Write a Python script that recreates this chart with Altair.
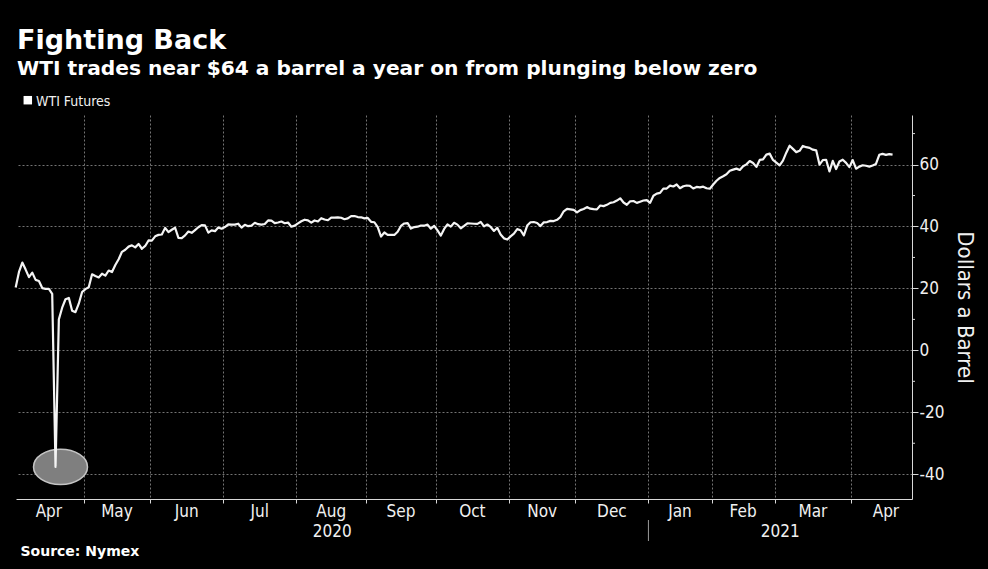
import altair as alt
import pandas as pd

# ---- WTI futures closes (dollars a barrel), one value per trading day ----
apr_2020 = [20.31, 25.32, 28.34, 26.08, 23.63, 25.09, 22.76, 22.41, 20.11, 19.87, 19.87,
            18.27, -37.63, 10.01, 13.78, 16.50, 16.94, 12.78, 12.34, 15.06, 18.84]
may_2020 = [19.78, 20.39, 24.56, 23.99, 23.55, 24.74, 24.14, 25.78, 25.29, 27.56, 29.43,
            31.82, 32.50, 33.49, 33.92, 33.25, 34.35, 32.81, 33.71, 35.49]
jun_2020 = [35.44, 36.81, 37.29, 37.41, 39.55, 38.19, 38.94, 39.60, 36.34, 36.26, 37.12,
            38.38, 37.96, 38.84, 39.75, 40.46, 40.37, 38.01, 38.72, 38.49, 39.70, 39.27]
jul_2020 = [39.82, 40.65, 40.63, 40.62, 40.90, 39.62, 40.55, 40.10, 40.29, 41.20, 40.75,
            40.59, 40.81, 41.96, 41.90, 41.07, 41.29, 41.60, 41.04, 41.27, 39.92, 40.27]
aug_2020 = [41.01, 41.70, 42.19, 41.95, 41.22, 41.94, 41.61, 42.67, 42.24, 42.01, 42.89,
            42.89, 42.93, 42.82, 42.34, 42.62, 43.35, 43.39, 43.04, 42.97, 42.61]
sep_2020 = [42.76, 41.51, 41.37, 39.77, 36.76, 38.05, 37.30, 37.33, 37.26, 38.28, 40.16,
            40.97, 41.11, 39.31, 39.80, 39.93, 40.31, 40.25, 40.60, 39.29, 40.22]
oct_2020 = [38.72, 37.05, 39.22, 40.67, 39.95, 41.19, 40.60, 39.43, 40.20, 41.04, 40.96,
            40.88, 40.83, 41.46, 40.03, 40.64, 39.85, 38.56, 39.57, 37.39, 36.17, 35.79]
nov_2020 = [36.81, 37.66, 39.15, 38.79, 37.14, 40.29, 41.36, 41.45, 41.12, 40.13, 41.34,
            41.43, 41.82, 41.74, 42.15, 43.06, 44.91, 45.71, 45.53, 45.34]
dec_2020 = [44.55, 45.28, 45.64, 46.26, 45.76, 45.60, 45.52, 46.78, 46.57, 46.99, 47.62,
            47.82, 48.36, 49.10, 47.74, 47.02, 48.12, 48.23, 47.62, 48.00, 48.40, 48.52]
jan_2021 = [47.62, 49.93, 50.63, 50.83, 52.24, 52.25, 53.21, 52.91, 53.57, 52.36, 52.98,
            53.24, 53.13, 52.27, 52.77, 52.61, 52.85, 52.34, 52.20]
feb_2021 = [53.55, 54.76, 55.69, 56.23, 56.85, 57.97, 58.36, 58.68, 58.24, 59.47, 60.05,
            61.14, 60.52, 59.24, 61.49, 61.67, 63.22, 63.53, 61.50]
mar_2021 = [60.64, 59.75, 61.28, 63.83, 66.09, 65.05, 64.01, 64.44, 66.02, 65.61, 65.39,
            64.80, 64.60, 60.00, 61.42, 61.55, 57.76, 61.18, 58.56, 60.97, 61.56, 60.55, 59.16]
apr_2021 = [61.45, 58.65, 59.33, 59.77, 59.60, 59.32, 59.70, 60.18, 63.15, 63.46, 63.13,
            63.38, 63.20]

# ---- axis categories ----
month_labels = ["Apr", "May", "Jun", "Jul", "Aug", "Sep", "Oct", "Nov", "Dec",
                "Jan", "Feb", "Mar", "Apr"]
month_trading_days = [21, 20, 22, 22, 21, 21, 22, 20, 22, 19, 19, 23, 21]
year_labels = ["2020", "2021"]
y_major = [-40, -20, 0, 20, 40, 60]
y_minor = [-30, -10, 10, 30, 50, 70]

title_text = "Fighting Back"
subtitle_text = "WTI trades near $64 a barrel a year on from plunging below zero"
legend_text = "WTI Futures"
source_text = "Source: Nymex"
y_title = "Dollars a Barrel"

# ---- build tables ----
series = [apr_2020, may_2020, jun_2020, jul_2020, aug_2020, sep_2020, oct_2020,
          nov_2020, dec_2020, jan_2021, feb_2021, mar_2021, apr_2021]
prices = [p for m in series for p in m]
df = pd.DataFrame({"day": list(range(len(prices))), "price": prices})

starts = []
acc = 0
for d in month_trading_days:
    starts.append(acc)
    acc += d
tick_pos = [s - 0.5 for s in starts[1:]]
label_pos = [s - 0.5 + d / 2 for s, d in zip(starts, month_trading_days)]
months_df = pd.DataFrame({"day": label_pos, "label": month_labels})

W, H = 896, 384
X_DOMAIN = [0.1, 0.1 + W / 3.3216]
Y_DOMAIN = [-48, 76]
jan_tick = starts[9] - 0.5
years_df = pd.DataFrame({"day": [(X_DOMAIN[0] + jan_tick) / 2, (jan_tick + X_DOMAIN[1]) / 2],
                         "label": year_labels})
sep_df = pd.DataFrame({"day": [jan_tick]})

imin = int(df["price"].idxmin())
ellipse_df = pd.DataFrame({"day": [imin + 1.5], "price": [df["price"].min()]})
minor_df = pd.DataFrame({"price": y_minor})

AX_FONT = "DejaVu Sans Condensed, Roboto, sans-serif"
TITLE_FONT = "DejaVu Sans, Verdana, sans-serif"
TXT = "#f0f0f0"
GRID = "#737373"
AXC = "#d8d8d8"

xscale = alt.Scale(domain=X_DOMAIN, nice=False, zero=False)
yscale = alt.Scale(domain=Y_DOMAIN, nice=False, zero=False)

x_enc = alt.X("day:Q", scale=xscale, title=None,
              axis=alt.Axis(values=tick_pos, labels=False, ticks=True, tickSize=4,
                            tickColor=AXC, domainColor=AXC, grid=True, gridColor=GRID,
                            gridDash=[2, 2], gridWidth=1))
y_enc = alt.Y("price:Q", scale=yscale, title=y_title,
              axis=alt.Axis(orient="right", values=y_major, labelExpr="'' + datum.value",
                            tickSize=6, tickColor=AXC, domainColor=AXC, labelColor=TXT,
                            labelFont=AX_FONT, labelFontSize=17, labelPadding=1,
                            grid=True, gridColor=GRID, gridDash=[2, 2], gridWidth=1,
                            titleColor=TXT, titleFont=AX_FONT, titleFontSize=22,
                            titleFontWeight="normal", titlePadding=9))

ellipse = alt.Chart(ellipse_df).mark_point(
    shape="M -1 0 A 1 0.65 0 1 0 1 0 A 1 0.65 0 1 0 -1 0 Z",
    size=2916, filled=True, color="#7f7f7f", stroke="#c4c4c4", strokeWidth=1.5, opacity=1
).encode(x=alt.X("day:Q", scale=xscale), y=alt.Y("price:Q", scale=yscale))

line = alt.Chart(df).mark_line(color="#f4f4f4", strokeWidth=2.2, strokeJoin="round").encode(
    x=x_enc, y=y_enc)

minor = alt.Chart(minor_df).mark_rule(color=AXC, strokeWidth=1).encode(
    y=alt.Y("price:Q", scale=yscale), x=alt.value(W), x2=alt.value(W + 3))

month_text = alt.Chart(months_df).mark_text(
    font=AX_FONT, fontSize=17, color=TXT, baseline="alphabetic", align="center"
).encode(x=alt.X("day:Q", scale=xscale), y=alt.value(H + 17.5), text="label:N")

year_text = alt.Chart(years_df).mark_text(
    font=AX_FONT, fontSize=17, color=TXT, baseline="alphabetic", align="center"
).encode(x=alt.X("day:Q", scale=xscale), y=alt.value(H + 37.5), text="label:N")

sep_rule = alt.Chart(sep_df).mark_rule(color="#9a9a9a", strokeWidth=1).encode(
    x=alt.X("day:Q", scale=xscale), y=alt.value(H + 21), y2=alt.value(H + 42))

one = pd.DataFrame({"t": [0]})
title = alt.Chart(one).mark_text(
    text=title_text, font=TITLE_FONT, fontSize=27, fontWeight="bold", color="#ffffff",
    align="left", baseline="alphabetic").encode(x=alt.value(1), y=alt.value(-66))
subtitle = alt.Chart(one).mark_text(
    text=subtitle_text, font=TITLE_FONT, fontSize=20.2, fontWeight="bold", color="#ffffff",
    align="left", baseline="alphabetic").encode(x=alt.value(1), y=alt.value(-40))
legend_sq = alt.Chart(one).mark_square(size=72, color="#ffffff", opacity=1).encode(
    x=alt.value(11.8), y=alt.value(-14.8))
legend_lbl = alt.Chart(one).mark_text(
    text=legend_text, font=AX_FONT, fontSize=14, color=TXT,
    align="left", baseline="alphabetic").encode(x=alt.value(20), y=alt.value(-9))
source = alt.Chart(one).mark_text(
    text=source_text, font=TITLE_FONT, fontSize=14, fontWeight="bold", color="#ffffff",
    align="left", baseline="alphabetic").encode(x=alt.value(4.5), y=alt.value(441))

chart = alt.layer(
    ellipse, line, minor, month_text, year_text, sep_rule,
    title, subtitle, legend_sq, legend_lbl, source
).properties(
    width=W, height=H,
    autosize=alt.AutoSizeParams(type="none"),
    padding={"left": 16, "top": 115, "right": 988 - 16 - W, "bottom": 569 - 115 - H},
    background="#000000",
).configure_view(strokeWidth=0)

chart.save("out.html", embed_options={"renderer": "svg", "actions": False})
